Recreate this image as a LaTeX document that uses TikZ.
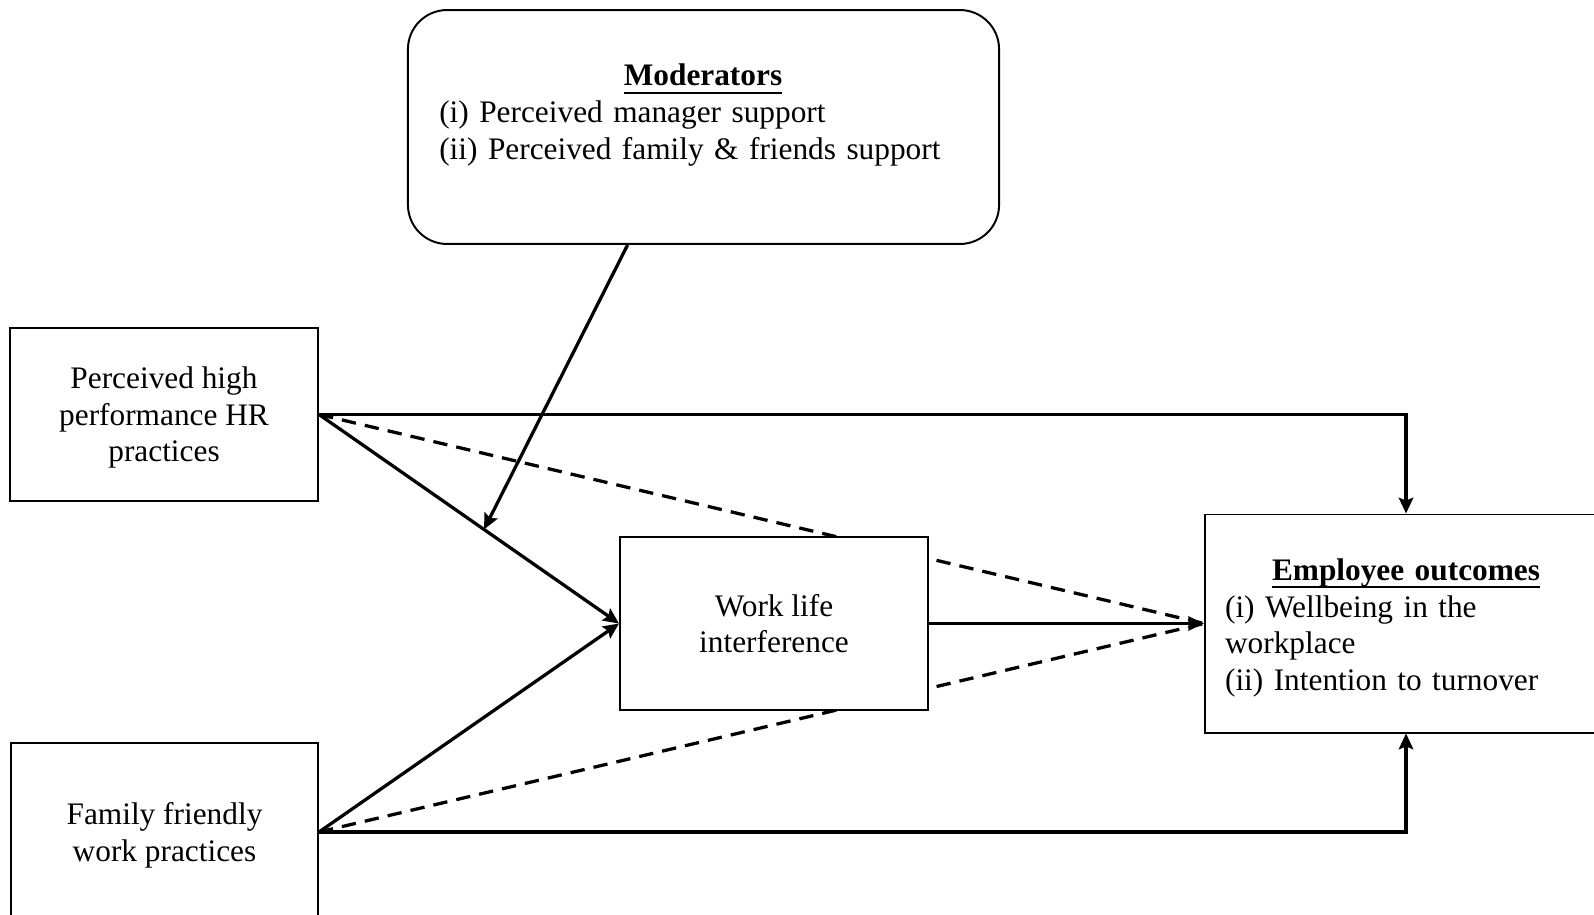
\documentclass[tikz,border=0pt]{standalone}
\usepackage{fontspec}
\setmainfont{Liberation Serif}
\usetikzlibrary{arrows.meta,calc,backgrounds}
\newcommand{\headline}[1]{\setbox0\hbox{\textbf{#1}}\rlap{\rule[-2.9pt]{\wd0}{0.7pt}}\box0}
\begin{document}
\begin{tikzpicture}[x=0.383pt,y=-0.383pt,>={Stealth[length=6pt,width=5.5pt,inset=1pt]},
	every node/.style={font=\fontsize{12}{14}\selectfont},
	box/.style={draw,line width=0.75pt,fill=white,inner sep=0pt},
	link/.style={line width=1.25pt},
	dlink/.style={line width=1.25pt,dash pattern=on 5.5pt off 3.5pt}]
	\useasboundingbox (0,0) rectangle (1594,914);
	\node[box,minimum width=118pt,minimum height=66.3pt,align=center,text depth=-1.4pt] (hr) at (164,414.5) {Perceived high\\performance HR\\practices};
	\node[box,minimum width=117.6pt,minimum height=68.2pt,align=center,text depth=0pt] (ff) at (164.5,832) {Family friendly\\work practices};
	\node[box,minimum width=118pt,minimum height=66.3pt,align=center,text depth=-2.5pt] (wli) at (774,623.5) {Work life\\interference};
	\node[box,rounded corners=15pt,minimum width=226.4pt,minimum height=89.6pt] (mod) at (703.5,127) {};
	\node[text width=202pt,align=left] (modtxt) at (703,115) {\makebox[\hsize]{\headline{Moderators}}\\(i) Perceived manager support\\(ii) Perceived family \& friends support};
	\node[box,minimum width=154pt,minimum height=83.5pt] (emp) at (1406,623.5) {};
	\node[text width=138.6pt,align=left] (emptxt) at (1406,628) {\makebox[\hsize]{\headline{Employee outcomes}}\\(i) Wellbeing in the\\workplace\\(ii) Intention to turnover};
	% direct paths
	\draw[link,->] (hr.east) -| (emp.north);
	\draw[link,->] (ff.east) -| (emp.south);
	% mediated paths
	\draw[link,->] (hr.east) -- (wli.west);
	\draw[link,->] (ff.east) -- (wli.west);
	\draw[link,->] (wli.east) -- (emp.west);
	\begin{pgfonlayer}{background}
		\draw[dlink] (hr.east) -- (emp.west);
		\draw[dlink] (ff.east) -- (emp.west);
	\end{pgfonlayer}
	% moderation
	\coordinate (modfoot) at ($(mod.south west)!0.372!(mod.south east)$);
	\coordinate (hit) at ($(hr.east)!0.55!(wli.west)$);
	\draw[link,->] (modfoot) -- (hit);
\end{tikzpicture}
\end{document}
